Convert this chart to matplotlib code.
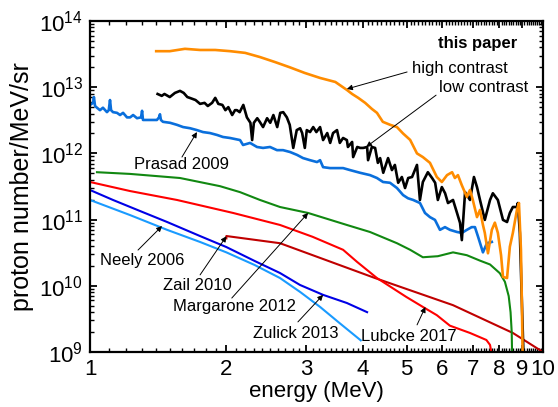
import matplotlib
matplotlib.use("Agg")
import matplotlib.pyplot as plt
from matplotlib.ticker import FixedLocator, LogLocator, NullFormatter
import numpy as np

plt.rcParams['font.family'] = ['Liberation Sans', 'DejaVu Sans']
plt.rcParams['mathtext.fontset'] = 'custom'
plt.rcParams['mathtext.rm'] = 'Liberation Sans'

# this paper, high contrast (orange)
high_e = [1.40, 1.50, 1.62, 1.75, 1.89, 2.04, 2.20, 2.37, 2.56, 2.76, 2.98, 3.22, 3.48, 3.69, 3.79,
          3.91, 4.05, 4.19, 4.30, 4.43, 4.60, 4.76, 4.91, 5.09, 5.27, 5.43, 5.63, 5.83, 5.98, 6.14,
          6.30, 6.39, 6.49, 6.62, 6.79, 6.90, 7.00, 7.15, 7.26, 7.37, 7.44, 7.56, 7.71, 7.83, 7.95,
          8.08, 8.16, 8.33, 8.45, 8.58, 8.76, 8.85, 8.94, 8.98, 9.03]
high_n = [3.5e13, 3.5e13, 3.8e13, 3.65e13, 3.65e13, 3.5e13, 3.3e13, 2.86e13, 2.4e13, 2.0e13,
          1.64e13, 1.38e13, 1.2e13, 9.1e12, 7.9e12, 6.9e12, 5.8e12, 4.7e12, 4.1e12, 3.0e12,
          2.7e12, 2.5e12, 2.0e12, 1.6e12, 1.0e12, 8.8e11, 7.2e11, 4.4e11, 3.7e11, 4.7e11,
          5.2e11, 4.25e11, 4.7e11, 3.3e11, 2.2e11, 2.8e11, 1.98e11, 1.09e11, 1.4e11, 8.3e10,
          6.3e10, 3.1e10, 7.0e10, 9.0e10, 6.3e10, 2.9e10, 1.36e10, 1.31e10, 3.9e10, 6.3e10,
          1.4e11, 1.78e11, 3.5e10, 6e9, 5e8]

# this paper, low contrast (black)
low_e = [1.41, 1.44, 1.46, 1.50, 1.54, 1.58, 1.61, 1.64, 1.66, 1.71,
         1.75, 1.79, 1.82, 1.86, 1.89, 1.92, 1.96, 1.99, 2.02, 2.06,
         2.09, 2.11, 2.14, 2.18, 2.22, 2.26, 2.28, 2.30, 2.34, 2.37,
         2.41, 2.46, 2.50, 2.54, 2.59, 2.63, 2.67, 2.72, 2.76, 2.81,
         2.86, 2.91, 2.94, 2.98, 3.01, 3.06, 3.11, 3.16, 3.22, 3.27,
         3.34, 3.39, 3.44, 3.51, 3.56, 3.62, 3.69, 3.71, 3.79, 3.81,
         3.89, 3.95, 4.01, 4.09, 4.11, 4.19, 4.26, 4.32, 4.37, 4.44,
         4.55, 4.64, 4.71, 4.79, 4.88, 4.96, 5.04, 5.14, 5.27, 5.35,
         5.43, 5.57, 5.69, 5.78, 5.86, 5.98, 6.08, 6.17, 6.33, 6.46,
         6.56, 6.62, 6.73, 6.90, 7.04, 7.15, 7.26, 7.44, 7.64, 7.75,
         7.95, 8.16, 8.33, 8.45, 8.58, 8.76, 8.80, 8.89, 8.98, 9.08]
low_n = [7.9e12, 7.4e12, 7.9e12, 7.1e12, 8.2e12, 8.8e12, 8.2e12, 7.1e12, 6.9e12, 6.4e12,
         5.6e12, 5.8e12, 5.2e12, 5.8e12, 6.9e12, 5.6e12, 5.4e12, 4.5e12, 5.0e12, 3.8e12,
         4.5e12, 4.5e12, 4.2e12, 5.4e12, 3.5e12, 2.9e12, 1.59e12, 2.9e12, 3.4e12, 3.0e12,
         2.5e12, 3.4e12, 2.9e12, 3.8e12, 2.5e12, 4.1e12, 4.2e12, 3.5e12, 2.7e12, 1.21e12,
         2.25e12, 2.4e12, 2.03e12, 1.21e12, 2.25e12, 2.1e12, 2.5e12, 2.1e12, 2.5e12, 1.59e12,
         2.03e12, 1.44e12, 2.03e12, 2.25e12, 1.44e12, 1.71e12, 1.59e12, 1.25e12, 1.49e12, 8.8e11,
         1.25e12, 1.21e12, 1.21e12, 1.25e12, 7.9e11, 1.25e12, 1.21e12, 7.2e11, 8.5e11, 5.1e11,
         8.5e11, 5.6e11, 6.7e11, 3.6e11, 4.4e11, 3.0e11, 4.25e11, 4.4e11, 6.7e11, 1.98e11,
         3.7e11, 5.2e11, 4.25e11, 3.6e11, 1.98e11, 3.1e11, 2.5e11, 1.78e11, 1.98e11, 1.26e11,
         8.9e10, 4.9e10, 2.6e11, 1.98e11, 4.4e11, 3.1e11, 1.98e11, 9.9e10, 1.98e11, 2.5e11,
         1.98e11, 9.9e10, 9.2e10, 1.26e11, 1.55e11, 1.55e11, 1.78e11, 6.3e10, 6.1e9, 5e8]

# Prasad 2009
prasad_e = [1.00, 1.016, 1.02, 1.026, 1.036, 1.052, 1.068, 1.09, 1.10, 1.107,
            1.113, 1.124, 1.147, 1.165, 1.183, 1.207, 1.226, 1.245, 1.27, 1.296,
            1.303, 1.309, 1.357, 1.405, 1.42, 1.427, 1.434, 1.449, 1.502, 1.556,
            1.605, 1.663, 1.722, 1.776, 1.84, 1.907, 1.966, 2.037, 2.144, 2.177,
            2.256, 2.337, 2.41, 2.497, 2.587, 2.668, 2.764, 2.864, 2.953, 3.06,
            3.171, 3.22, 3.27, 3.388, 3.62, 3.75, 3.945, 4.151, 4.30, 4.435,
            4.595, 4.76, 4.91, 5.035, 5.17, 5.351, 5.489, 5.63, 5.775, 5.923,
            6.076, 6.232, 6.46, 6.62, 6.79, 6.96, 7.076, 7.19, 7.37, 7.52, 7.71]
prasad_n = [5.4e12, 5.8e12, 7.1e12, 5.2e12, 4.9e12, 4.5e12, 4.9e12, 4.2e12, 4.5e12, 6.4e12,
            4.5e12, 4.2e12, 4.1e12, 3.8e12, 4.1e12, 3.5e12, 3.5e12, 3.8e12, 3.4e12, 3.5e12,
            4.4e12, 3.2e12, 3.2e12, 3.2e12, 3.5e12, 3.9e12, 3.2e12, 3.0e12, 2.9e12, 2.7e12,
            2.5e12, 2.4e12, 2.25e12, 2.1e12, 2.03e12, 1.9e12, 1.77e12, 1.71e12, 1.59e12, 1.34e12,
            1.44e12, 1.25e12, 1.21e12, 1.25e12, 1.12e12, 1.12e12, 1.05e12, 9.5e11, 8.5e11, 7.9e11,
            7.4e11, 7.9e11, 6.2e11, 6.0e11, 6.0e11, 5.6e11, 5.1e11, 4.7e11, 4.25e11, 3.7e11,
            3.6e11, 3.0e11, 2.35e11, 2.1e11, 1.98e11, 1.78e11, 1.26e11, 1.09e11, 9.9e10, 7.0e10,
            7.7e10, 7.0e10, 6.5e10, 6.3e10, 7.0e10, 7.7e10, 7.7e10, 5.5e10, 3.2e10, 4.4e10, 4.6e10]

# Margarone 2012
marg_e = [1.036, 1.226, 1.58, 1.936, 2.144, 2.373, 2.627, 3.03, 3.69, 4.151, 4.76, 5.09, 5.43,
          5.86, 6.33, 6.79, 7.26, 7.64, 8.03, 8.24, 8.40, 8.48, 8.53, 8.56]
marg_n = [5.2e11, 4.9e11, 4.25e11, 3.2e11, 2.6e11, 1.98e11, 1.55e11, 1.26e11, 8.3e10, 6.5e10,
          4.4e10, 3.5e10, 2.7e10, 2.8e10, 3.2e10, 2.9e10, 2.4e10, 2.1e10, 1.55e10, 1.15e10,
          7e9, 4e9, 2e9, 5e8]

# Lubcke 2017
lub_e = [1.0, 1.226, 1.556, 2.07, 2.627, 3.1, 3.62, 3.886, 4.30, 4.99, 5.43, 5.83, 6.23, 6.9,
         7.5, 7.64, 7.83]
lub_n = [3.7e11, 2.7e11, 1.98e11, 1.26e11, 8.3e10, 5.5e10, 3.5e10, 2.3e10, 1.31e10, 6.8e9,
         4.8e9, 3.6e9, 2.5e9, 1.94e9, 1.52e9, 1.28e9, 5e8]

# Zail 2010
zail_e = [2.0, 2.0, 2.627, 4.258, 6.33, 8.58, 10.0]
zail_n = [5.2e10, 5.65e10, 4.4e10, 1.31e10, 5.1e9, 1.94e9, 1.0e9]

# Zulick 2013
zul_e = [1.0, 1.124, 1.289, 1.48, 1.749, 2.0, 2.31, 2.627, 2.908, 3.27, 3.69, 4.09]
zul_n = [2.8e11, 1.98e11, 1.35e11, 9.2e10, 5.65e10, 3.85e10, 2.37e10, 1.56e10, 1.03e10,
         7.3e9, 5.5e9, 4.0e9]

# Neely 2006
neely_e = [1.0, 1.226, 1.48, 1.749, 2.0, 2.31, 2.627, 2.908, 3.22, 3.564, 3.96]
neely_n = [1.98e11, 1.17e11, 7.0e10, 4.6e10, 3.2e10, 2.06e10, 1.31e10, 8.1e9, 4.8e9, 2.7e9, 1.5e9]

x_ticks = [1, 2, 3, 4, 5, 6, 7, 8, 9, 10]
y_ticks = [1e9, 1e10, 1e11, 1e12, 1e13, 1e14]
y_exps = [9, 10, 11, 12, 13, 14]

fig = plt.figure(figsize=(5.58, 4.07), dpi=100)
ax = fig.add_axes([0.1613, 0.1351, 0.8118, 0.8133])

ax.plot(neely_e, neely_n, color='#1a9bff', lw=1.5)
ax.plot(zul_e, zul_n, color='#0000e6', lw=1.5)
ax.plot(zail_e, zail_n, color='#c00000', lw=1.5)
ax.plot(lub_e, lub_n, color='#ff0000', lw=1.5)
ax.plot(marg_e, marg_n, color='#118811', lw=1.5)
ax.plot(prasad_e, prasad_n, color='#0a6fdc', lw=1.9)
ax.plot(low_e, low_n, color='black', lw=1.9)
ax.plot(high_e, high_n, color='#ff8c00', lw=1.9)

ax.set_xscale('log')
ax.set_yscale('log')
ax.set_xlim(1, 10)
ax.set_ylim(1e9, 1e14)

ax.xaxis.set_major_locator(FixedLocator(x_ticks))
ax.xaxis.set_minor_locator(FixedLocator(np.arange(1.1, 10.0, 0.1)))
ax.set_xticklabels([str(t) for t in x_ticks])
ax.xaxis.set_minor_formatter(NullFormatter())
ax.yaxis.set_major_locator(FixedLocator(y_ticks))
ax.set_yticklabels([r'$\mathregular{10^{%d}}$' % k for k in y_exps])
ax.yaxis.set_minor_locator(LogLocator(base=10, subs=np.arange(2, 10)))
ax.yaxis.set_minor_formatter(NullFormatter())

ax.tick_params(which='both', direction='in', top=True, right=True, labelsize=16)
ax.tick_params(which='major', length=5, width=1.3, pad=5)
ax.tick_params(which='minor', length=3, width=1.0)
for s in ax.spines.values():
    s.set_linewidth(1.6)

ax.set_xlabel('energy (MeV)', fontsize=16, labelpad=1)
ax.set_ylabel('proton number/MeV/sr', fontsize=18, labelpad=4)

arr = dict(arrowstyle='-|>', color='black', lw=0.7, mutation_scale=8, shrinkA=0, shrinkB=0)

ax.text(0.8565, 0.9335, 'this paper', transform=ax.transAxes, ha='center', va='center',
        fontsize=12, fontweight='bold')

labels = [
    ('high contrast', (0.817, 0.858), (0.700, 0.846), (3.69, 9.4e12)),
    ('low contrast', (0.870, 0.798), (0.764, 0.776), (4.07, 1.25e12)),
    ('Prasad 2009', (0.201, 0.565), (0.203, 0.589), (1.722, 2.1e12)),
    ('Neely 2006', (0.115, 0.275), (0.106, 0.308), (1.442, 8.0e10)),
    ('Zail 2010', (0.236, 0.202), (0.243, 0.233), (2.0, 5.6e10)),
    ('Margarone 2012', (0.320, 0.136), (0.313, 0.163), (3.03, 1.26e11)),
    ('Zulick 2013', (0.455, 0.057), (0.459, 0.091), (3.27, 7.3e9)),
    ('Lubcke 2017', (0.704, 0.048), (0.722, 0.082), (5.5, 4.8e9)),
]
for txt, pos, tail, tip in labels:
    ax.text(pos[0], pos[1], txt, transform=ax.transAxes, ha='center', va='center', fontsize=12)
    ax.annotate('', xy=tip, xycoords='data', xytext=tail, textcoords='axes fraction',
                arrowprops=arr)

fig.savefig('out.png', dpi=100)
